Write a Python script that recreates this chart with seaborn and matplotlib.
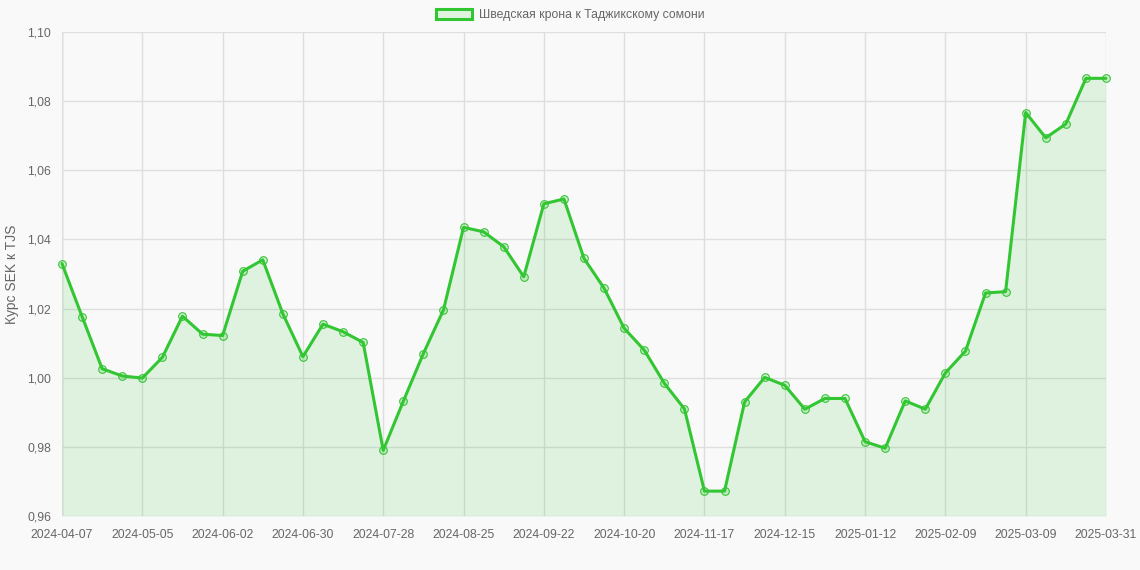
import numpy as np
import pandas as pd
import matplotlib
matplotlib.use("Agg")
import matplotlib.pyplot as plt
import seaborn as sns
from matplotlib.patches import Patch

dates = list(pd.date_range("2024-04-07", periods=52, freq="7D").strftime("%Y-%m-%d")) + ["2025-03-31"]
values = [1.0330, 1.0177, 1.0026, 1.0005, 0.9999, 1.0059, 1.0178, 1.0126, 1.0122, 1.0308,
          1.0341, 1.0185, 1.0061, 1.0155, 1.0133, 1.0102, 0.9790, 0.9932, 1.0070, 1.0196,
          1.0435, 1.0422, 1.0379, 1.0292, 1.0503, 1.0517, 1.0345, 1.0259, 1.0143, 1.0080,
          0.9984, 0.9910, 0.9672, 0.9672, 0.9930, 1.0001, 0.9978, 0.9909, 0.9940, 0.9940,
          0.9815, 0.9796, 0.9933, 0.9909, 1.0014, 1.0077, 1.0245, 1.0249, 1.0767, 1.0694,
          1.0734, 1.0866, 1.0866]
series_label = "Шведская крона к Таджикскому сомони"
y_label = "Курс SEK к TJS"
y_ticks = [0.96, 0.98, 1.00, 1.02, 1.04, 1.06, 1.08, 1.10]

df = pd.DataFrame({"idx": np.arange(len(dates)), "date": dates, "value": values})

sns.set_theme(style="whitegrid")
plt.rcParams["font.family"] = ["Liberation Sans", "DejaVu Sans"]

bg = "#f9f9f9"
line_c = "#33c633"
grid_c = "#dedede"
text_c = "#666666"

fig = plt.figure(figsize=(11.4, 5.7), dpi=100, facecolor=bg)
ax = fig.add_axes([62/1140, 1-516/570, (1106-62)/1140, (516-32)/570])
ax.set_facecolor(bg)

ax.fill_between(df["idx"], df["value"], 0.96, color=line_c, alpha=0.13, linewidth=0, zorder=1)
sns.lineplot(data=df, x="idx", y="value", ax=ax, color=line_c, linewidth=2.2,
             marker="o", markersize=5.5, markerfacecolor=(0.2, 0.78, 0.2, 0.18),
             markeredgecolor=line_c, markeredgewidth=0.8,
             label=series_label, legend=False, zorder=3, clip_on=False)

ax.set_xlim(0, len(dates)-1)
ax.set_ylim(0.96, 1.10)
xt = list(range(0, len(dates)-1, 4)) + [len(dates)-1]
ax.set_xticks(xt)
ax.set_xticklabels([dates[i] for i in xt])
ax.set_yticks(y_ticks)
ax.set_yticklabels([f"{v:.2f}".replace(".", ",") for v in y_ticks])
ax.set_xlabel("")
ax.set_ylabel(y_label, color=text_c, fontsize=10, labelpad=6)
ax.grid(True, color=grid_c, linewidth=1)
ax.tick_params(axis="both", colors=grid_c, labelcolor=text_c, labelsize=8.8, length=6, width=1, pad=2)
ax.tick_params(axis="x", pad=3)
for s in ax.spines.values():
    s.set_visible(False)
ax.axvline(0, color="#c8c8c8", linewidth=1, zorder=0)

handle = Patch(facecolor="#dff3df", edgecolor=line_c, linewidth=2.2)
leg = fig.legend([handle], [series_label], loc="center", bbox_to_anchor=(0.5, 1-15/570),
                 frameon=False, fontsize=8.8, handlelength=3.0, handleheight=0.9, handletextpad=0.5)
for t in leg.get_texts():
    t.set_color(text_c)

fig.savefig("out.png", dpi=100, facecolor=bg)
